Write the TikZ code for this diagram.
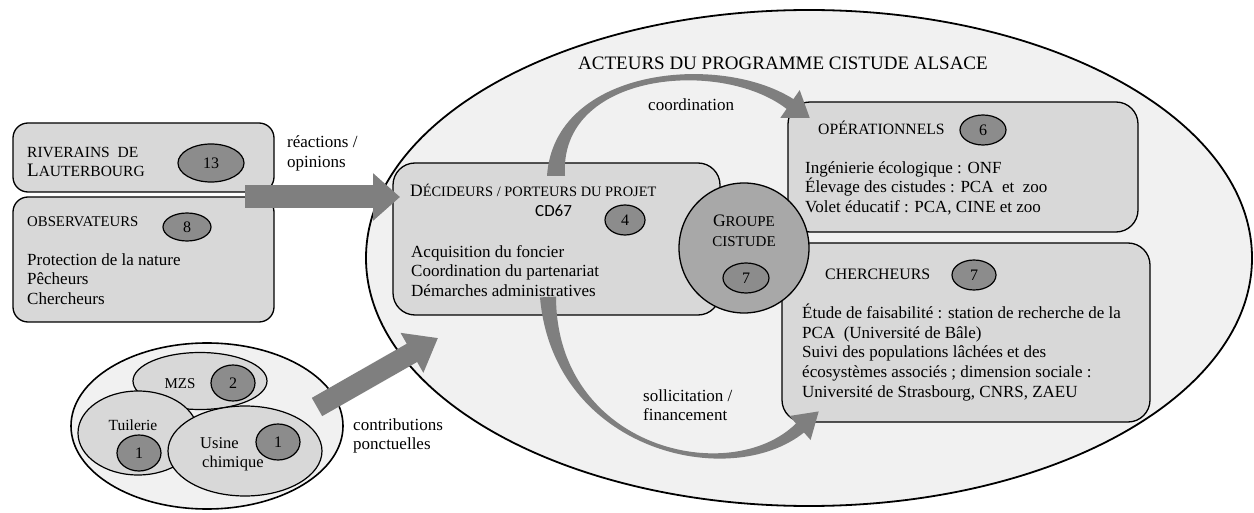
\documentclass[tikz,border=0pt]{standalone}
\usepackage{fontspec}
\setmainfont{Liberation Serif}
\newfontfamily\cdfont{Carlito}
\usetikzlibrary{arrows.meta,shapes.geometric}

\definecolor{ovalfill}{HTML}{F1F1F1}
\definecolor{boxfill}{HTML}{D8D8D8}
\definecolor{badgefill}{HTML}{8C8C8C}
\definecolor{groupfill}{HTML}{A8A8A8}
\definecolor{arrowgray}{HTML}{7F7F7F}

% small capitals set by hand: \smc[size]{TEXT}
\newcommand{\smc}[2][15]{{\fontsize{#1}{#1}\selectfont #2}}
\newcommand{\bigc}[1]{{\fontsize{17.5}{18}\selectfont #1}}

\tikzset{
  actorbox/.style={draw=black, line width=1.3pt, fill=boxfill, rounded corners=#1,
    rectangle, inner sep=0pt},
  badge/.style={draw=black, line width=1.2pt, fill=badgefill, ellipse, inner sep=0pt,
    font=\fontsize{16}{16}\selectfont},
  firm/.style={draw=black, line width=1.2pt, fill=boxfill, ellipse, inner sep=0pt},
  body/.style={anchor=north west, inner sep=0pt, align=left,
    font=\fontsize{17}{19.8}\selectfont},
  label/.style={anchor=base west, inner sep=0pt, font=\fontsize{17}{19}\selectfont},
  fatarrow/.style={draw=arrowgray, line width=23pt,
    -{Triangle[length=27pt,width=46pt]}},
  bentarrow/.style={fill=arrowgray, draw=none},
}

\begin{document}
\begin{tikzpicture}[x=1pt,y=-1pt]
\useasboundingbox (0,0) rectangle (1254,513);
\fill[white] (0,0) rectangle (1254,513);

% the programme
\node[draw=black, line width=1.8pt, fill=ovalfill, ellipse, inner sep=0pt,
  minimum width=886pt, minimum height=496pt] (prog) at (809,258) {};
\node[anchor=base west, inner sep=0pt, font=\fontsize{19}{19}\selectfont] (title)
  at (578,70) {ACTEURS DU PROGRAMME CISTUDE ALSACE};

% outside actors
\node[actorbox=15pt, minimum width=261pt, minimum height=69pt] (riv) at (143.5,157.5) {};
\node[actorbox=15pt, minimum width=261pt, minimum height=125pt] (obs) at (143.5,259.5) {};
\node[anchor=base west, inner sep=0pt, font=\fontsize{15.5}{16}\selectfont] (rivt1)
  at (27,158) {RIVERAINS\ \ DE};
\node[anchor=base west, inner sep=0pt, font=\fontsize{15.5}{16}\selectfont] (rivt2)
  at (27,177) {{\fontsize{19}{19}\selectfont L}AUTERBOURG};
\node[badge, minimum width=66pt, minimum height=38pt] (b13) at (211,163) {13};
\node[anchor=base west, inner sep=0pt] (obst) at (27,227) {\smc[14.8]{OBSERVATEURS}};
\node[badge, minimum width=48pt, minimum height=28pt] (b8) at (187,227) {8};
\node[body] (obsb) at (27,249) {\rule{0pt}{16pt}Protection de la nature\\Pêcheurs\\Chercheurs};

% local firms
\node[draw=black, line width=1.6pt, fill=ovalfill, ellipse, inner sep=0pt,
  minimum width=272pt, minimum height=166pt] (firms) at (207,426) {};
\node[firm, minimum width=134pt, minimum height=57pt] (mzs) at (200,381) {};
\node[firm, minimum width=120pt, minimum height=84pt] (tui) at (138,433) {};
\node[firm, minimum width=154pt, minimum height=90pt] (usi) at (245,451) {};
\node[anchor=base, inner sep=0pt, font=\fontsize{15}{15}\selectfont] (mzst) at (180,388) {MZS};
\node[badge, minimum width=44pt, minimum height=36pt] (b2) at (233,383) {2};
\node[anchor=base, inner sep=0pt, font=\fontsize{15.5}{15}\selectfont] (tuit) at (133,430) {Tuilerie};
\node[badge, minimum width=44pt, minimum height=36pt] (b1a) at (139,453) {1};
\node[anchor=base west, inner sep=0pt, font=\fontsize{16.5}{15}\selectfont] (usit1) at (200,448) {Usine};
\node[anchor=base west, inner sep=0pt, font=\fontsize{16.5}{15}\selectfont] (usit2) at (202,467) {chimique};
\node[badge, minimum width=44pt, minimum height=36pt] (b1b) at (278,442) {1};

% decision makers
\node[actorbox=22pt, minimum width=327pt, minimum height=152pt] (dec) at (556.5,239) {};
\node[anchor=base west, inner sep=0pt] (dect) at (410,197)
  {\bigc{D}\smc[14.4]{ÉCIDEURS / PORTEURS DU PROJET}};
\node[anchor=base west, inner sep=0pt, font=\cdfont\fontsize{17}{17}\selectfont] (cd) at (535,217) {CD67};
\node[badge, minimum width=40pt, minimum height=30pt] (b4) at (625,220) {4};
\node[body] (decb) at (411,241) {\rule{0pt}{16pt}Acquisition du foncier\\Coordination du partenariat\\Démarches administratives};

% operational partners
\node[actorbox=22pt, minimum width=350pt, minimum height=130pt] (ope) at (963,167) {};
\node[anchor=base west, inner sep=0pt] (opet) at (818,135) {\smc[15.7]{OPÉRATIONNELS}};
\node[badge, minimum width=46pt, minimum height=30pt] (b6) at (983,130) {6};
\node[body] (opeb) at (805,157) {\rule{0pt}{16pt}Ingénierie écologique : ONF\\Élevage des cistudes : PCA\ \ et\ \ zoo\\Volet éducatif : PCA, CINE et zoo};

% researchers
\node[actorbox=22pt, minimum width=368pt, minimum height=179pt] (che) at (966,332.5) {};
\node[anchor=base west, inner sep=0pt] (chet) at (825,280) {\smc[15.9]{CHERCHEURS}};
\node[badge, minimum width=44pt, minimum height=30pt] (b7b) at (974,275) {7};
\node[body] (cheb) at (802,302) {\rule{0pt}{16pt}Étude de faisabilité : station de recherche de la\\PCA\ \ (Université de Bâle)\\Suivi des populations lâchées et des\\écosystèmes associés ; dimension sociale :\\Université de Strasbourg, CNRS, ZAEU};

% steering group
\node[draw=black, line width=1.3pt, fill=groupfill, circle, inner sep=0pt,
  minimum size=130pt] (grp) at (744,248) {};
\node[anchor=base, inner sep=0pt] (grpt1) at (744,227) {\bigc{G}\smc{ROUPE}};
\node[anchor=base, inner sep=0pt] (grpt2) at (744,247) {\smc{CISTUDE}};
\node[badge, minimum width=46pt, minimum height=30pt] (b7a) at (746,278) {7};

% flows towards the decision makers
\coordinate (rivout) at (245,197);
\coordinate (decin) at (400,197);
\draw[fatarrow] (rivout) -- (decin);
\coordinate (firmout) at (317,407);
\coordinate (decin2) at (438,338);
\draw[fatarrow, line width=21pt, -{Triangle[length=30pt,width=44pt]}] (firmout) -- (decin2);

% tapered curved arrows from the decision makers
\coordinate (decup) at (556,176);
\coordinate (opein) at (809.7,117.8);
\fill[bentarrow] (547,176) .. controls (554,68) and (719,52) .. (793.4,99.1)
  -- (799.7,90.1) -- (opein) -- (780.3,117.9) -- (786.6,108.9)
  .. controls (721,58) and (558,72) .. (565,176) -- cycle;
\coordinate (decdown) at (548,297);
\coordinate (chein) at (818.7,411.4);
\fill[bentarrow] (556,296.6) .. controls (556.5,449) and (730.5,488) .. (796,423.5)
  -- (789.4,416) -- (chein) -- (810.6,440) -- (804,432.5)
  .. controls (729.5,492) and (553.5,451) .. (540,297.4) -- cycle;

\node[label] (reac1) at (287,148) {réactions /};
\node[label] (reac2) at (287,168) {opinions};
\node[label] (coord) at (648,111) {coordination};
\node[label] (sol1) at (643,401) {sollicitation /};
\node[label] (sol2) at (643,420) {financement};
\node[label] (contr1) at (353,430) {contributions};
\node[label] (contr2) at (353,449) {ponctuelles};
\end{tikzpicture}
\end{document}
